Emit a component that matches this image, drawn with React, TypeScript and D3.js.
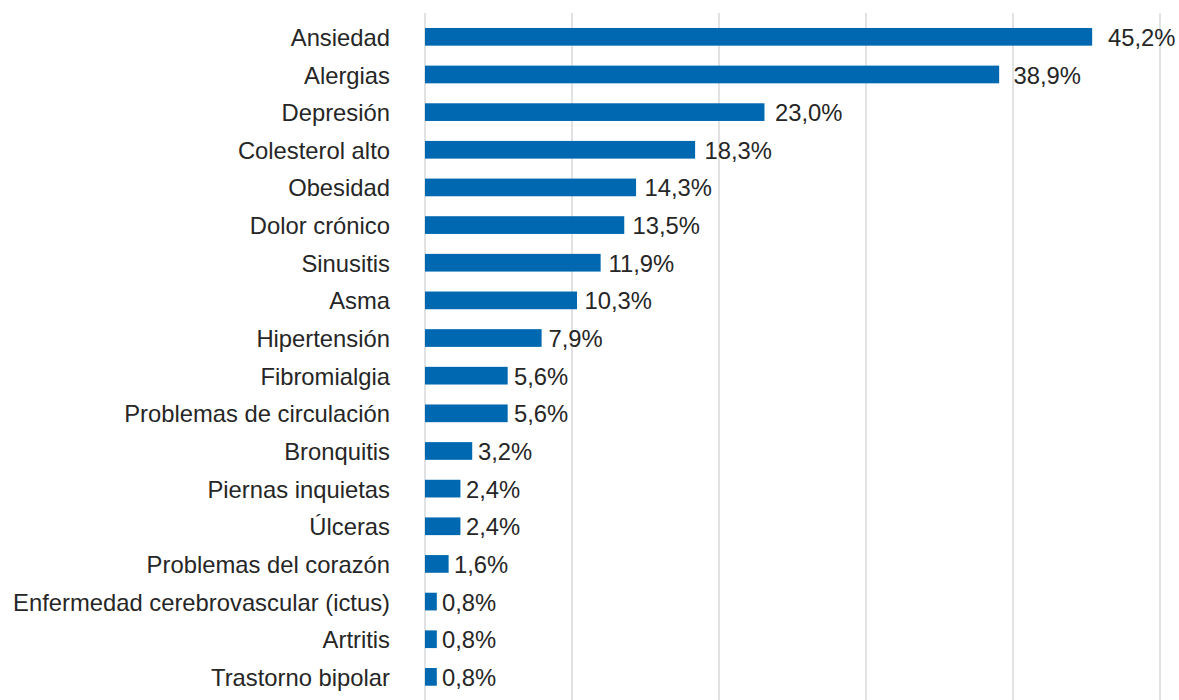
import React from "react";
import * as d3 from "d3";

const categories = [
  "Ansiedad",
  "Alergias",
  "Depresión",
  "Colesterol alto",
  "Obesidad",
  "Dolor crónico",
  "Sinusitis",
  "Asma",
  "Hipertensión",
  "Fibromialgia",
  "Problemas de circulación",
  "Bronquitis",
  "Piernas inquietas",
  "Úlceras",
  "Problemas del corazón",
  "Enfermedad cerebrovascular (ictus)",
  "Artritis",
  "Trastorno bipolar",
];
const values = [45.2, 38.9, 23.0, 18.3, 14.3, 13.5, 11.9, 10.3, 7.9, 5.6, 5.6, 3.2, 2.4, 2.4, 1.6, 0.8, 0.8, 0.8];
const gridTicks = [0, 10, 20, 30, 40, 50];

const W = 1179;
const H = 700;

export default function App() {
  const x = d3.scaleLinear().domain([0, 50]).range([425, 1163]);
  const xLabel = d3.scaleLinear().domain([0, 50]).range([430, 1180]);
  const xGrid = d3.scaleLinear().domain([0, 50]).range([425, 1160]);
  const y = d3.scaleBand<string>().domain(categories).range([18, 695.7]).paddingInner(0.53).paddingOuter(0.265);
  const fmt = (v: number) => v.toFixed(1).replace(".", ",") + "%";
  const font = "'Liberation Sans', Arial, sans-serif";
  return (
    <svg width={W} height={H} style={{ position: "absolute", left: 0, top: 0, background: "#fff" }}>
      {gridTicks.map((t) => (
        <line key={t} x1={xGrid(t)} x2={xGrid(t)} y1={13} y2={H} stroke="#d9d9d9" strokeWidth={1.5} />
      ))}
      {categories.map((c, i) => {
        const yy = y(c)!;
        const bw = y.bandwidth();
        return (
          <g key={c}>
            <rect x={x(0)} y={yy} width={x(values[i]) - x(0)} height={bw} fill="#0068b0" />
            <text x={390} y={yy + bw / 2} dy="0.38em" textAnchor="end" fontFamily={font} fontSize={23.8} fill="#262626">
              {c}
            </text>
            <text x={xLabel(values[i]) + 0} y={yy + bw / 2} dy="0.38em" fontFamily={font} fontSize={23.8} fill="#262626">
              {fmt(values[i])}
            </text>
          </g>
        );
      })}
    </svg>
  );
}
